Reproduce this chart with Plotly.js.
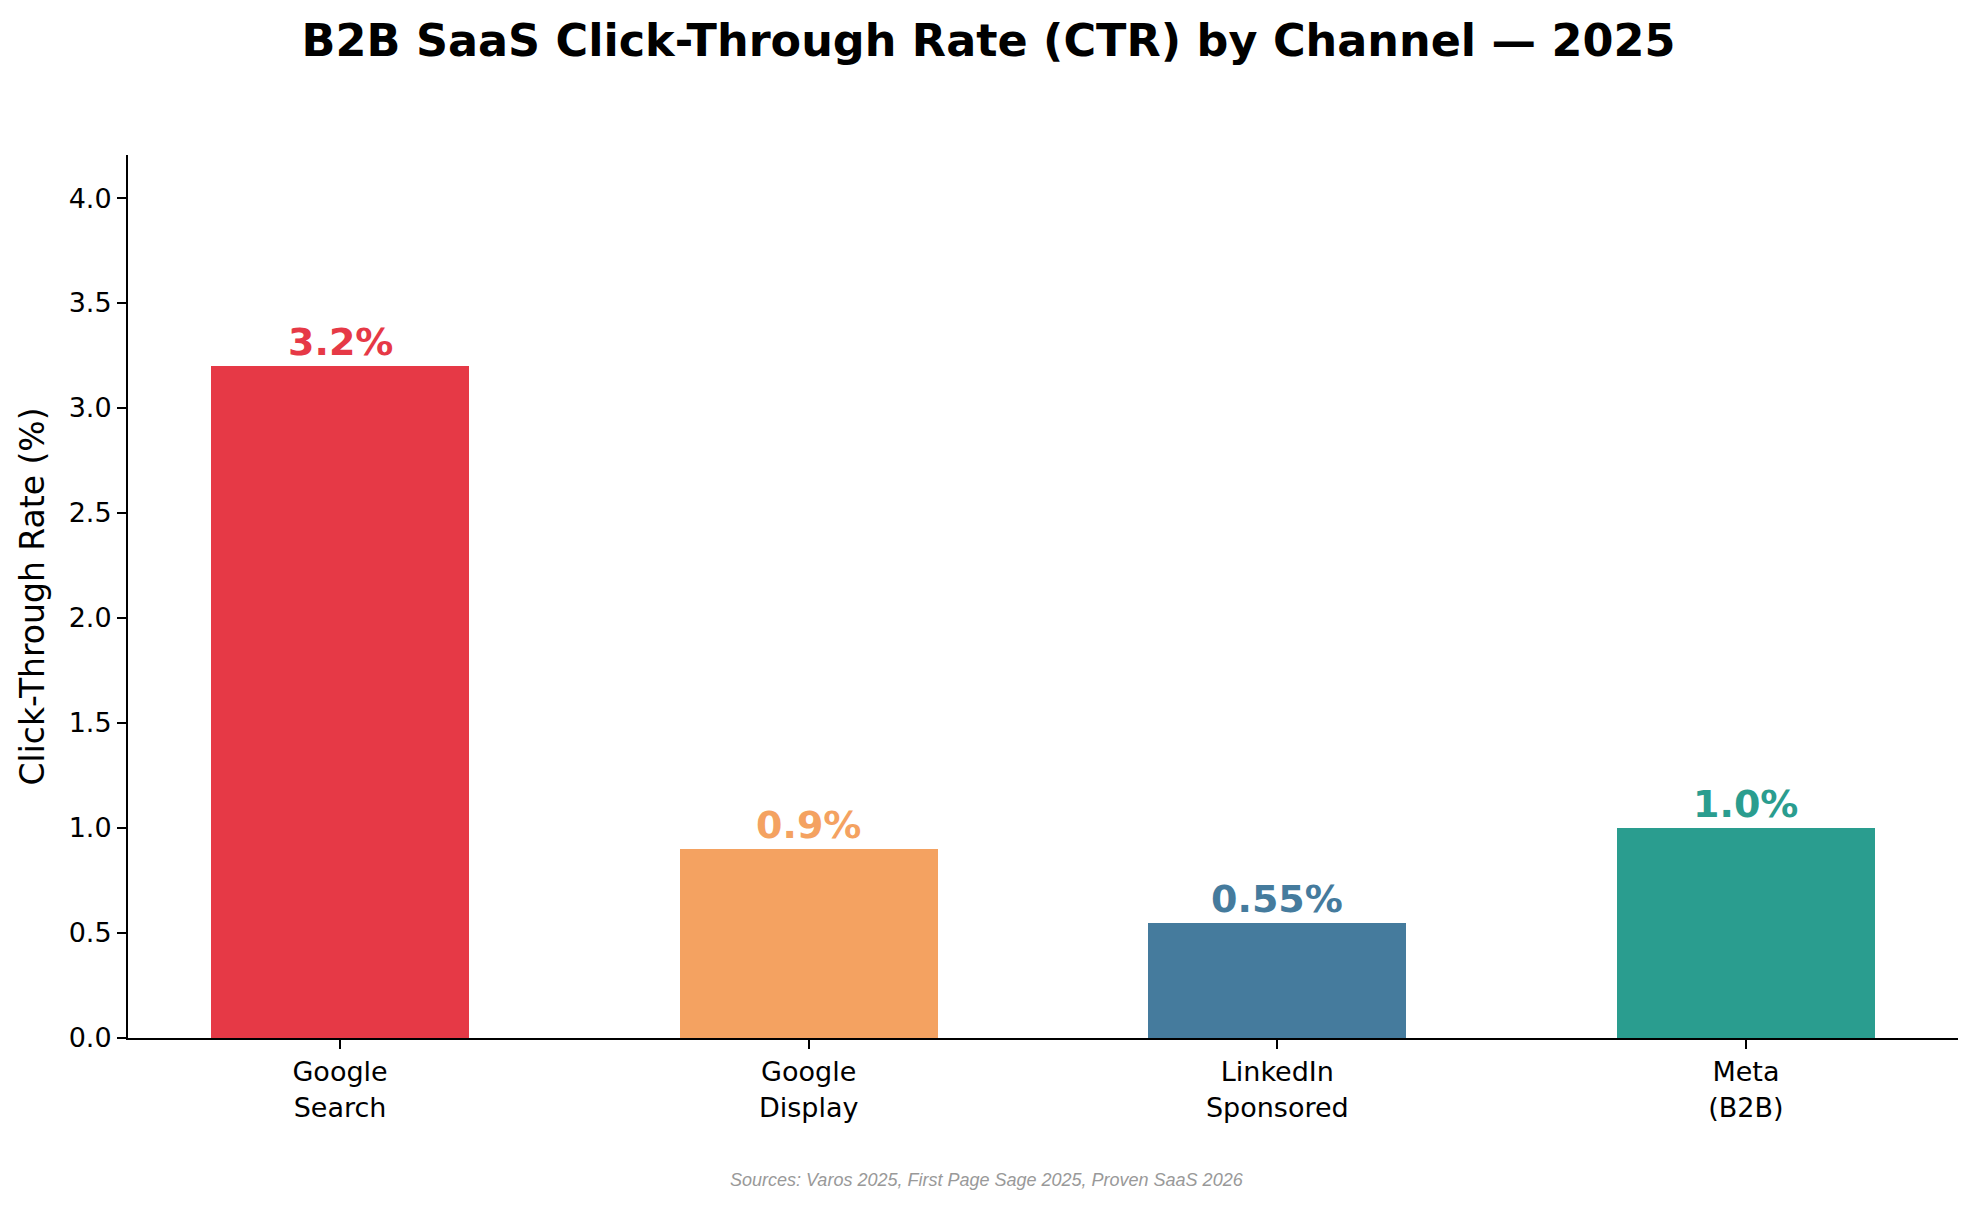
<!DOCTYPE html>
<html>
<head>
<meta charset="utf-8">
<script src="https://cdn.plot.ly/plotly-3.0.1.min.js"></script>
<style>html,body{margin:0;padding:0;background:#fff;}#chart{width:1977px;height:1209px;}</style>
</head>
<body>
<div id="chart"></div>
<script>
const categories = ["Google<br>Search", "Google<br>Display", "LinkedIn<br>Sponsored", "Meta<br>(B2B)"];
const ctrValues = [3.2, 0.9, 0.55, 1.0];
const valueLabels = ["3.2%", "0.9%", "0.55%", "1.0%"];
const barColors = ["#E63946", "#F4A261", "#457B9D", "#2A9D8F"];
const yTickVals = [0.0, 0.5, 1.0, 1.5, 2.0, 2.5, 3.0, 3.5, 4.0];
const yTickText = ["0.0", "0.5", "1.0", "1.5", "2.0", "2.5", "3.0", "3.5", "4.0"];
const titleText = "B2B SaaS Click-Through Rate (CTR) by Channel — 2025";
const yTitleText = "Click-Through Rate (%)";
const sourceText = "Sources: Varos 2025, First Page Sage 2025, Proven SaaS 2026";

const xIdx = categories.map((_, i) => i);

const trace = {
  type: "bar",
  x: xIdx,
  y: ctrValues,
  width: 0.55,
  marker: { color: barColors, line: { width: 0 } },
  hoverinfo: "skip"
};

const labelAnnotations = xIdx.map((xi, i) => ({
  x: xi, y: ctrValues[i], xref: "x", yref: "y",
  text: valueLabels[i], showarrow: false,
  xanchor: "center", yanchor: "bottom", yshift: 0,
  font: { family: "DejaVu Sans", size: 38, color: barColors[i], weight: "bold" }
}));

const layout = {
  width: 1977, height: 1209,
  paper_bgcolor: "#ffffff", plot_bgcolor: "#ffffff",
  margin: { l: 128, r: 19, t: 155, b: 171, pad: 0 },
  showlegend: false,
  bargap: 0,
  title: {
    text: "<b>" + titleText + "</b>",
    font: { family: "DejaVu Sans", size: 44.5, color: "#000000" },
    x: 0.5, xref: "container", xanchor: "center",
    y: 1 - 40 / 1209, yref: "container", yanchor: "middle"
  },
  xaxis: {
    range: [-0.4525, 3.4525],
    tickvals: xIdx, ticktext: categories,
    showgrid: false, zeroline: false,
    showline: true, linecolor: "#000000", linewidth: 2,
    ticks: "outside", ticklen: 9, tickwidth: 2, tickcolor: "#000000",
    tickfont: { family: "DejaVu Sans", size: 27, color: "#000000" },
    fixedrange: true
  },
  yaxis: {
    range: [0, 4.205],
    tickvals: yTickVals, ticktext: yTickText,
    showgrid: false, zeroline: false,
    showline: true, linecolor: "#000000", linewidth: 2,
    ticks: "outside", ticklen: 9, tickwidth: 2, tickcolor: "#000000",
    tickfont: { family: "DejaVu Sans", size: 27, color: "#000000" },
    title: { text: yTitleText, font: { family: "DejaVu Sans", size: 33, color: "#000000" }, standoff: 14 },
    fixedrange: true
  },
  annotations: labelAnnotations.concat([{
    xref: "paper", yref: "paper",
    x: (987 - 128) / 1830, y: (1038 - 1180) / 883,
    xanchor: "center", yanchor: "middle",
    text: "<i>" + sourceText + "</i>", showarrow: false,
    font: { family: "Liberation Sans", size: 18, color: "#999999" }
  }])
};

Plotly.newPlot("chart", [trace], layout, { displayModeBar: false, staticPlot: true });
</script>
</body>
</html>
